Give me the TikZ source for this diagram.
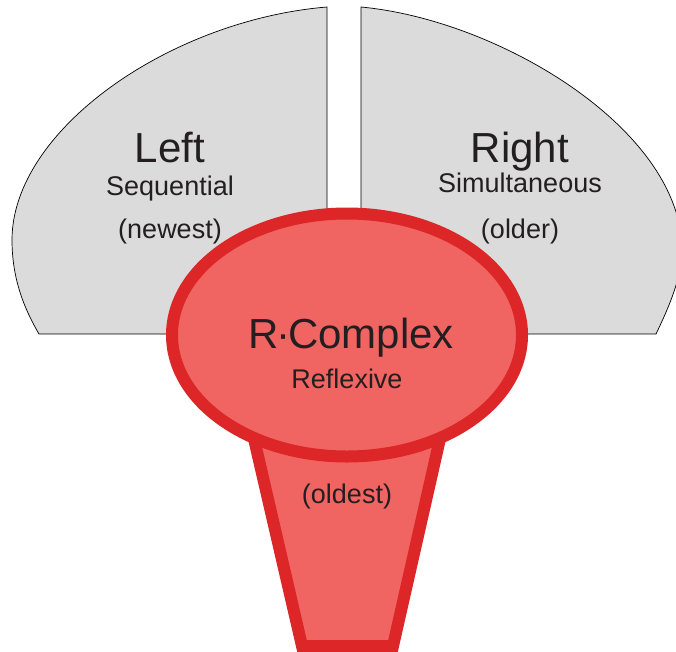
\documentclass[tikz,border=0pt]{standalone}
\usepackage{fontspec}
\setmainfont{Liberation Sans}
\definecolor{hemi}{RGB}{219,219,219}
\definecolor{rfill}{RGB}{240,100,98}
\definecolor{rline}{RGB}{221,38,39}
\definecolor{txt}{RGB}{35,31,32}
\begin{document}
\begin{tikzpicture}[x=1pt,y=-1pt,
  hemisphere/.style={fill=hemi,draw=black,line width=0.7pt},
  rpart/.style={fill=rfill,draw=rline,line width=12pt},
  bigtext/.style={font=\fontsize{42}{42}\selectfont,text=txt,anchor=base,inner sep=0pt},
  smalltext/.style={font=\fontsize{27}{27}\selectfont,text=txt,anchor=base,inner sep=0pt}]
\useasboundingbox (0,0) rectangle (676,651);
\begin{scope}
\clip (0,0) rectangle (676,651);
% left hemisphere
\draw[hemisphere] (327,7) .. controls (170,20) and (12,130) .. (12,240)
  .. controls (12,280) and (25,310) .. (39,334) -- (327,334) -- cycle;
% right hemisphere
\draw[hemisphere] (361,7) .. controls (500,20) and (682,130) .. (682,250)
  .. controls (682,280) and (665,315) .. (656,334) -- (361,334) -- cycle;
% brain stem
\draw[rpart,line join=miter] (240.4,380) -- (302,646) -- (393,646) -- (453.3,380) -- cycle;
% R-complex
\draw[rpart] (347,335) ellipse [x radius=175, y radius=121.5];
\end{scope}
\node[bigtext] (left) at (170,162) {Left};
\node[smalltext] (seq) at (170,195) {Sequential};
\node[smalltext] (newest) at (170,238) {(newest)};
\node[bigtext] (right) at (520,162) {Right};
\node[smalltext] (sim) at (520,192) {Simultaneous};
\node[smalltext] (older) at (520,238) {(older)};
\node[bigtext] (rc) at (351,348) {R\kern-0.05em·\kern-0.05em Complex};
\node[smalltext] (refl) at (347,388) {Reflexive};
\node[smalltext] (oldest) at (347,503) {(oldest)};
\end{tikzpicture}
\end{document}
